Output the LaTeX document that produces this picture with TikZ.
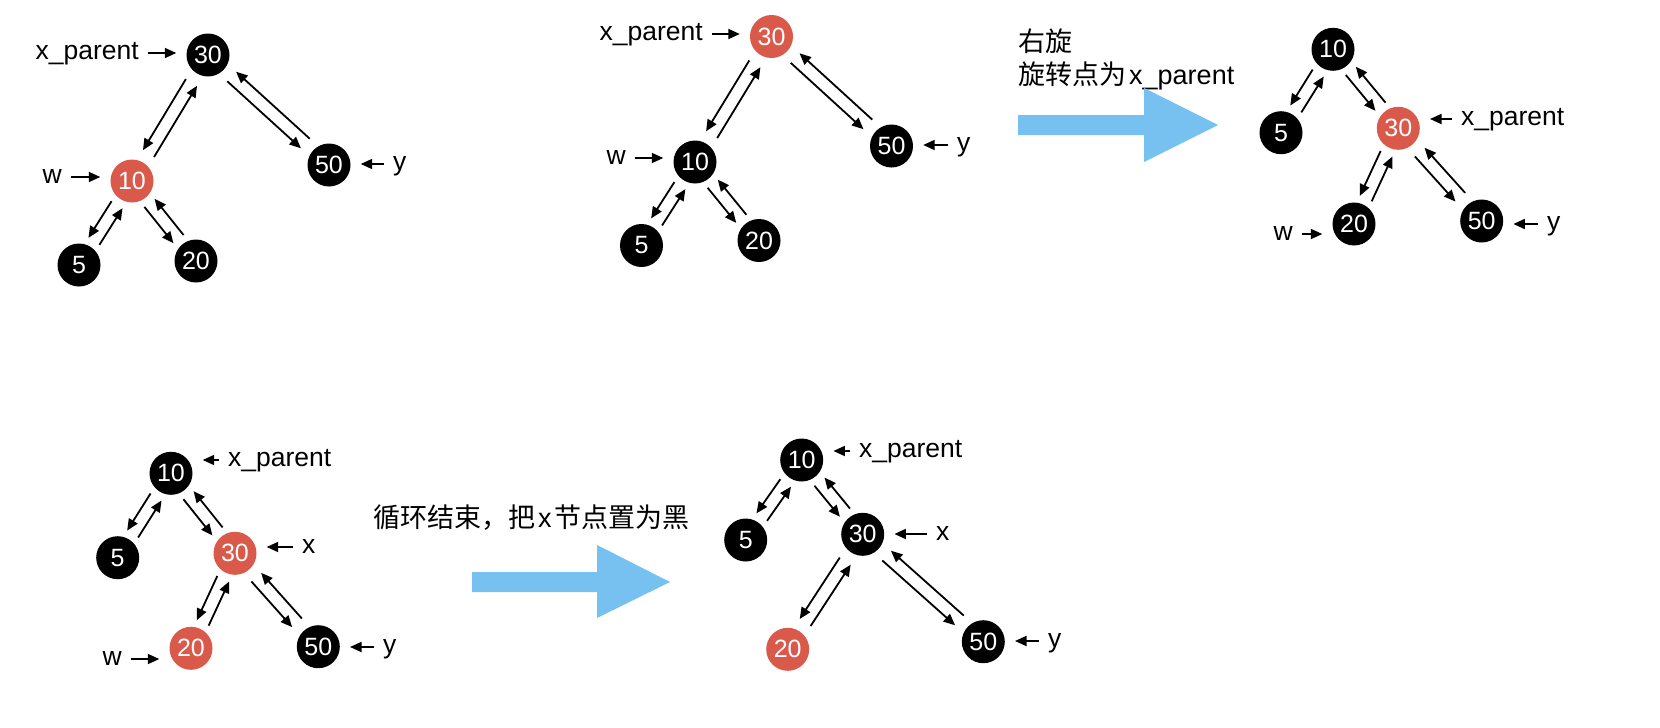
\documentclass[tikz,border=0pt]{standalone}
\usepackage{fontspec}
\setmainfont{Liberation Sans}
\newfontfamily\cjk{Noto Sans CJK SC}
\usetikzlibrary{calc,arrows.meta}
\definecolor{nodered}{RGB}{217,90,75}
\definecolor{arrowblue}{RGB}{118,193,240}
\tikzset{
  bn/.style={circle, fill=black, text=white, minimum size=43pt, inner sep=0pt,
    font=\fontsize{25}{25}\selectfont},
  rn/.style={bn, fill=nodered},
  lbl/.style={inner sep=0pt, font=\fontsize{26.5}{30}\selectfont,
    text height=19.8pt, text depth=6pt},
  txt/.style={inner sep=0pt, font=\fontsize{27}{30}\selectfont,
    text height=23.5pt, text depth=3pt},
  edge/.style={line width=1.8pt, -{Triangle[length=11.5pt,width=10pt]}},
  ptr/.style={edge, shorten <=9pt, shorten >=10pt},
  bigarrow/.style={fill=arrowblue}
}
\newcommand{\dedge}[2]{%
  \draw[edge] let \p1=($(#2)-(#1)$), \n1={atan2(\y1,\x1)},
    \n2={veclen(\x1,\y1)}, \n3={(\n2<115) ? 28 : 32} in
    ($(#1)+(\n1:\n3)+(\n1-90:6.5pt)$) -- ($(#2)+(\n1:-\n3)+(\n1-90:6.5pt)$);}
\newcommand{\pedge}[2]{\dedge{#1}{#2}\dedge{#2}{#1}}
\begin{document}
\begin{tikzpicture}[x=1pt,y=1pt]
\useasboundingbox (0,0) rectangle (1660,-728);

% ---------- Tree A (top left)
\node[bn] (A30) at (208,-55) {30};
\node[rn] (A10) at (132,-181) {10};
\node[bn] (A50) at (329,-165) {50};
\node[bn] (A5) at (79,-265) {5};
\node[bn] (A20) at (196,-261) {20};
\pedge{A30}{A10}\pedge{A30}{A50}\pedge{A10}{A5}\pedge{A10}{A20}
\node[lbl, anchor=east] (Axp) at (139,-53) {x\_parent};
\node[lbl, anchor=east] (Aw) at (62,-177) {w};
\node[lbl, anchor=west] (Ay) at (393,-164) {y};
\draw[ptr] (Axp.east) -- (Axp.east -| A30.west);
\draw[ptr] (Aw.east) -- (Aw.east -| A10.west);
\draw[ptr] (Ay.west) -- (Ay.west -| A50.east);

% ---------- Tree B (top middle)
\node[rn] (B30) at (771.5,-36.5) {30};
\node[bn] (B10) at (695,-162) {10};
\node[bn] (B50) at (891.5,-146) {50};
\node[bn] (B5) at (641.5,-245.5) {5};
\node[bn] (B20) at (759,-240.5) {20};
\pedge{B30}{B10}\pedge{B30}{B50}\pedge{B10}{B5}\pedge{B10}{B20}
\node[lbl, anchor=east] (Bxp) at (703,-34) {x\_parent};
\node[lbl, anchor=east] (Bw) at (626,-158) {w};
\node[lbl, anchor=west] (By) at (957,-145) {y};
\draw[ptr] (Bxp.east) -- (Bxp.east -| B30.west);
\draw[ptr] (Bw.east) -- (Bw.east -| B10.west);
\draw[ptr] (By.west) -- (By.west -| B50.east);

% ---------- rotation arrow and text
\node[txt, anchor=west] (t1) at (1018,-41) {\cjk 右旋};
\node[txt, anchor=west] (t2) at (1018,-74) {{\cjk 旋转点为}\hspace{3pt}x\_parent};
\fill[bigarrow] (1018,-115) -- (1144,-115) -- (1144,-88) -- (1218,-125)
  -- (1144,-162) -- (1144,-135) -- (1018,-135) -- cycle;

% ---------- Tree C (top right)
\node[bn] (C10) at (1333,-49.3) {10};
\node[bn] (C5) at (1281,-132.7) {5};
\node[rn] (C30) at (1398.3,-128.3) {30};
\node[bn] (C20) at (1354,-224) {20};
\node[bn] (C50) at (1481.7,-221) {50};
\pedge{C10}{C5}\pedge{C10}{C30}\pedge{C30}{C20}\pedge{C30}{C50}
\node[lbl, anchor=west] (Cxp) at (1461,-119) {x\_parent};
\node[lbl, anchor=east] (Cw) at (1293,-234) {w};
\node[lbl, anchor=west] (Cy) at (1547,-224) {y};
\draw[ptr] (Cxp.west) -- (Cxp.west -| C30.east);
\draw[ptr] (Cw.east) -- (Cw.east -| C20.west);
\draw[ptr] (Cy.west) -- (Cy.west -| C50.east);

% ---------- Tree D (bottom left)
\node[bn] (D10) at (171,-473.3) {10};
\node[bn] (D5) at (117.7,-557.7) {5};
\node[rn] (D30) at (235,-553.3) {30};
\node[rn] (D20) at (191,-648.3) {20};
\node[bn] (D50) at (318.3,-646.7) {50};
\pedge{D10}{D5}\pedge{D10}{D30}\pedge{D30}{D20}\pedge{D30}{D50}
\node[lbl, anchor=west] (Dxp) at (228,-460) {x\_parent};
\node[lbl, anchor=west] (Dx) at (302,-547) {x};
\node[lbl, anchor=east] (Dw) at (122,-659) {w};
\node[lbl, anchor=west] (Dy) at (383,-647) {y};
\draw[ptr] (Dxp.west) -- (Dxp.west -| D10.east);
\draw[ptr] (Dx.west) -- (Dx.west -| D30.east);
\draw[ptr] (Dw.east) -- (Dw.east -| D20.west);
\draw[ptr] (Dy.west) -- (Dy.west -| D50.east);

% ---------- loop end arrow and text
\node[txt, anchor=west] (t3) at (373,-517) {{\cjk 循环结束，把}\hspace{3pt}x\hspace{3pt}{\cjk 节点置为黑}};
\fill[bigarrow] (472,-572) -- (597,-572) -- (597,-545) -- (670,-582)
  -- (597,-618) -- (597,-592) -- (472,-592) -- cycle;

% ---------- Tree E (bottom right)
\node[bn] (E10) at (801.7,-460) {10};
\node[bn] (E5) at (745.7,-540) {5};
\node[bn] (E30) at (862.7,-534.3) {30};
\node[rn] (E20) at (787.7,-649.3) {20};
\node[bn] (E50) at (983.3,-641.7) {50};
\pedge{E10}{E5}\pedge{E10}{E30}\pedge{E30}{E20}\pedge{E30}{E50}
\node[lbl, anchor=west] (Exp) at (859,-451) {x\_parent};
\node[lbl, anchor=west] (Ex) at (936,-534) {x};
\node[lbl, anchor=west] (Ey) at (1048,-641) {y};
\draw[ptr] (Exp.west) -- (Exp.west -| E10.east);
\draw[ptr] (Ex.west) -- (Ex.west -| E30.east);
\draw[ptr] (Ey.west) -- (Ey.west -| E50.east);
\end{tikzpicture}
\end{document}
